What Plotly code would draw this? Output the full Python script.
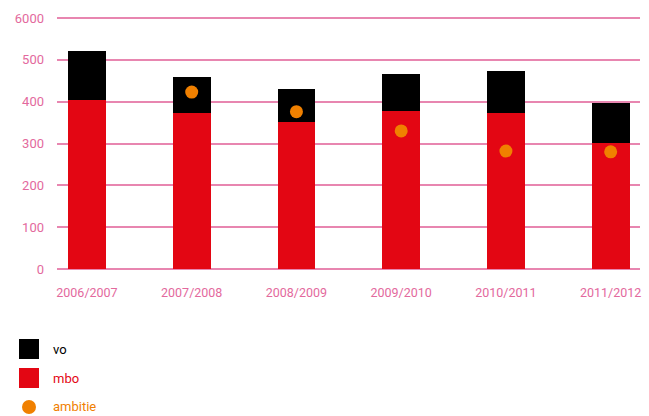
import plotly.graph_objects as go

categories = ["2006/2007", "2007/2008", "2008/2009", "2009/2010", "2010/2011", "2011/2012"]
mbo = [404, 373, 352, 378, 373, 301]
vo_total = [521, 459, 431, 466, 474, 397]
vo = [t - m for t, m in zip(vo_total, mbo)]
ambitie = [None, 423, 376, 330, 282, 280]
tick_vals = [0, 100, 200, 300, 400, 500, 600]
tick_text = ["0", "100", "200", "300", "400", "500", "6000"]

RED = "#E30613"
BLACK = "#000000"
ORANGE = "#F08000"
PINK = "#E3699D"
GRID = "#E886B0"
FONT = "Roboto"

fig = go.Figure()
fig.add_trace(go.Bar(x=categories, y=mbo, name="mbo", marker=dict(color=RED, line=dict(width=0)), width=0.36))
fig.add_trace(go.Bar(x=categories, y=vo, name="vo", marker=dict(color=BLACK, line=dict(width=0)), width=0.36))
fig.add_trace(go.Scatter(x=categories, y=ambitie, name="ambitie", mode="markers",
                         marker=dict(color=ORANGE, size=13, line=dict(width=0))))

L, R, T, B = 57, 9, 16, 145
plot_h = 416 - T - B
plot_w = 649 - L - R

fig.update_layout(
    width=649, height=416,
    barmode="stack",
    showlegend=False,
    plot_bgcolor="white", paper_bgcolor="white",
    margin=dict(l=L, r=R, t=T, b=B, autoexpand=False),
    font=dict(family=FONT, size=12, color=PINK),
    xaxis=dict(range=[-0.286, 5.28], showgrid=False, zeroline=False, showline=False, automargin=False,
               ticks="", ticklabelstandoff=12, tickfont=dict(size=12.5, color=PINK)),
    yaxis=dict(range=[-4.78, 604.78], tickvals=tick_vals, ticktext=tick_text, showgrid=True, automargin=False,
               gridcolor=GRID, gridwidth=1.5, zeroline=False, showline=False, ticks="",
               ticklabelstandoff=12, tickfont=dict(size=13, color=PINK)),
)


def py(pix):
    return (416 - B - pix) / plot_h


def px(pix):
    return (pix - L) / plot_w


legend_items = [("vo", BLACK, "square", 349), ("mbo", RED, "square", 378), ("ambitie", ORANGE, "circle", 407)]
for label, color, kind, yc in legend_items:
    if kind == "square":
        fig.add_shape(type="rect", xref="paper", yref="paper",
                      x0=px(19), x1=px(39), y0=py(yc + 10), y1=py(yc - 10),
                      fillcolor=color, line=dict(width=0), layer="above")
    else:
        fig.add_shape(type="circle", xref="paper", yref="paper",
                      x0=px(22), x1=px(36), y0=py(yc + 7), y1=py(yc - 7),
                      fillcolor=color, line=dict(width=0), layer="above")
    fig.add_annotation(xref="paper", yref="paper", x=px(51), y=py(yc),
                       text=label, showarrow=False, xanchor="left", yanchor="middle",
                       font=dict(family=FONT, size=13, color=color))

fig.write_html("out.html", config={"displayModeBar": False},
               post_script="document.body.style.margin='0';document.body.style.overflow='hidden';")
